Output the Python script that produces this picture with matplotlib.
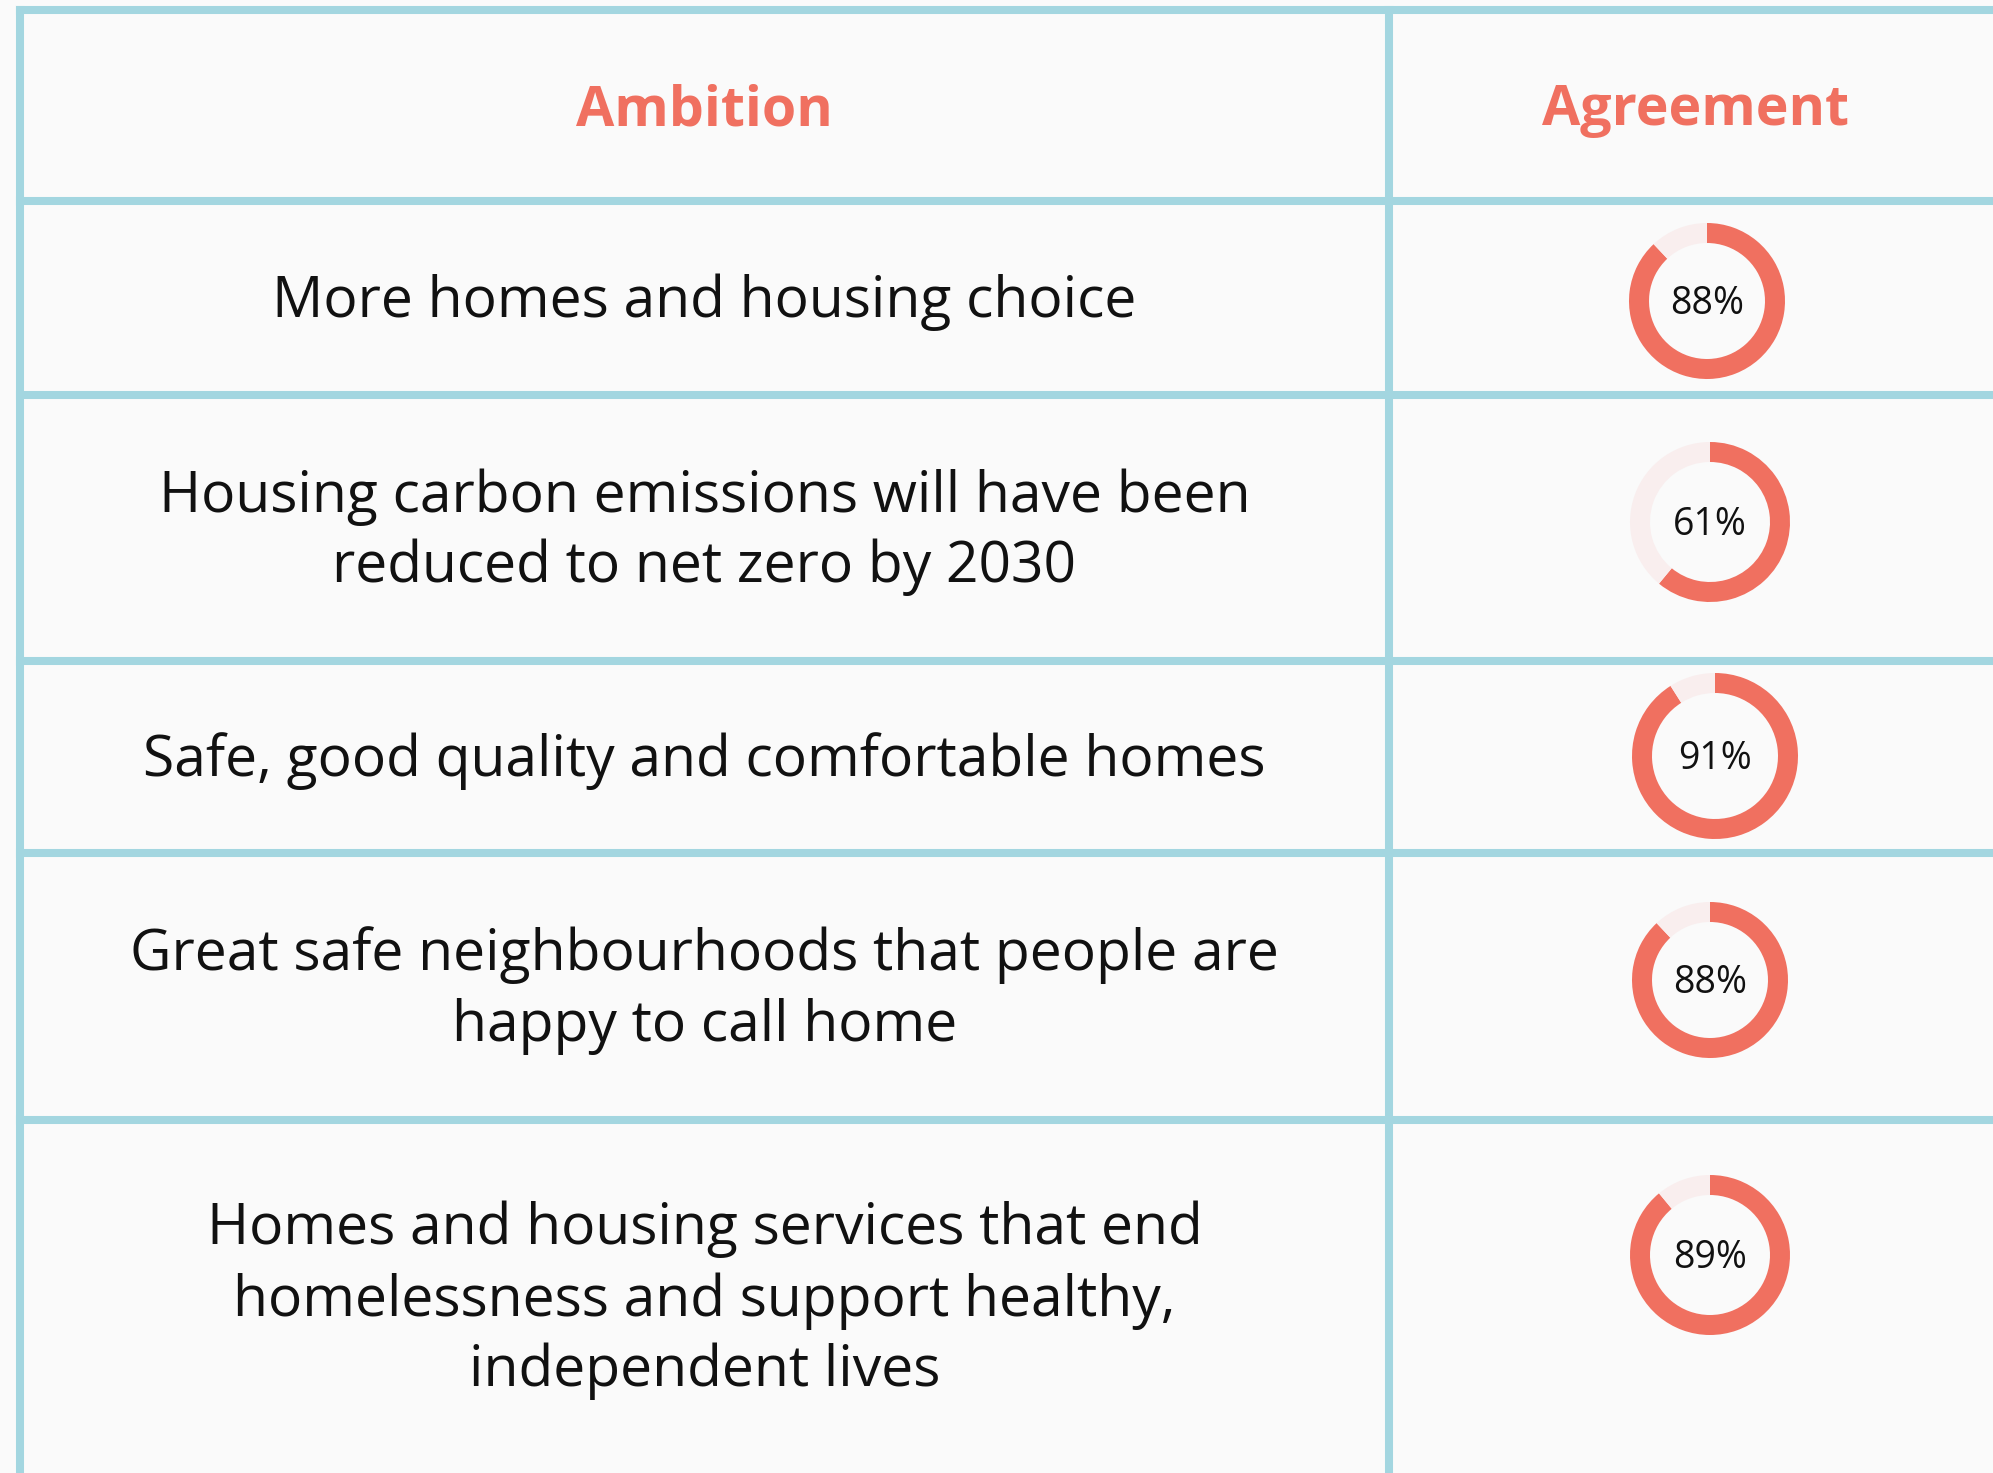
import matplotlib.pyplot as plt
from matplotlib.patches import Wedge

# Datos de la tabla
headers = ["Ambition", "Agreement"]
ambitions = [
    "More homes and housing choice",
    "Housing carbon emissions will have been\nreduced to net zero by 2030",
    "Safe, good quality and comfortable homes",
    "Great safe neighbourhoods that people are\nhappy to call home",
    "Homes and housing services that end\nhomelessness and support healthy,\nindependent lives",
]
agreement = [88, 61, 91, 88, 89]  # %

# Colores
coral = "#F07060"
pale = "#F9EEEE"
border = "#A3D6E0"
bg = "#FAFAFA"

# Disposición (píxeles)
W, H = 1993, 1473
left_x, div_x = 20, 1389
row_lines = [10, 201, 395, 661, 853, 1120]
donut_xy = [(1707, 301), (1710, 522), (1715, 756), (1710, 980), (1710, 1255)]
donut_r = [78, 80, 83, 78, 80]
ring = 20
line_step = 71  # distancia entre líneas de texto

fig = plt.figure(figsize=(W / 100, H / 100), dpi=100, facecolor=bg)
ax = fig.add_axes([0, 0, 1, 1])
ax.set_xlim(0, W)
ax.set_ylim(H, 0)
ax.set_aspect("equal")
ax.axis("off")

lw = 5.8
for y in row_lines:
    ax.plot([left_x, W + 10], [y, y], color=border, lw=lw, solid_capstyle="projecting")
for x in [left_x, div_x]:
    ax.plot([x, x], [row_lines[0], H + 10], color=border, lw=lw, solid_capstyle="projecting")

font = "Open Sans"
col_cx = [(left_x + div_x) / 2, (div_x + W) / 2 + 5]
for cx, h in zip(col_cx, headers):
    ax.text(cx, 125, h, color=coral, fontsize=40,
            fontweight="bold", family=font, ha="center", va="baseline")

bottoms = row_lines[1:] + [H]
for i, (txt, val) in enumerate(zip(ambitions, agreement)):
    top = row_lines[i + 1]
    bot = bottoms[i + 1]
    n = txt.count("\n") + 1
    y0 = (top + bot) / 2 - (n - 1) * line_step / 2 + 19
    for k, line in enumerate(txt.split("\n")):
        ax.text(col_cx[0], y0 + k * line_step, line, fontsize=41, family=font,
                ha="center", va="baseline", color="#111111")
    cx, cy = donut_xy[i]
    r = donut_r[i]
    ang = 360 * val / 100
    # eje y invertido: 270 = arriba, ángulos crecientes = sentido horario
    ax.add_patch(Wedge((cx, cy), r, 270, 270 + ang, width=ring, color=coral, lw=0))
    ax.add_patch(Wedge((cx, cy), r, 270 + ang, 270 + 360, width=ring, color=pale, lw=0))
    ax.text(cx, cy + 13, f"{val}%", fontsize=27, family=font, ha="center", va="baseline",
            color="#111111")

plt.savefig("out.png", dpi=100, facecolor=bg)
